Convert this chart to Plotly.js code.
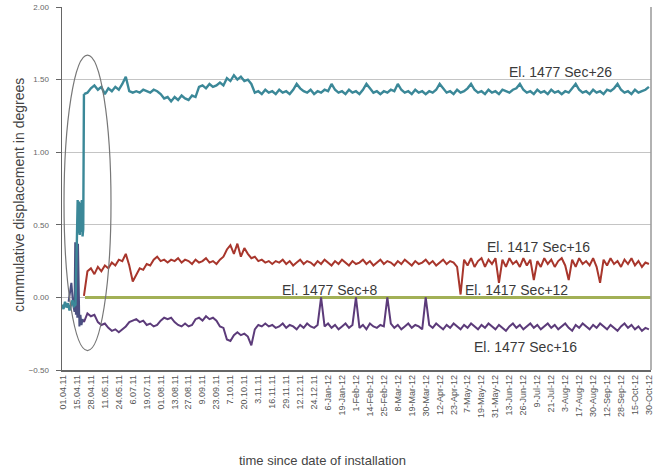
<!DOCTYPE html>
<html>
<head>
<meta charset="utf-8">
<script src="https://cdn.plot.ly/plotly-3.0.1.min.js"></script>
<style>html,body{margin:0;padding:0;background:#fff;}#chart{width:662px;height:471px;}</style>
</head>
<body>
<div id="chart"></div>
<script>
// Tick labels (one every 4 readings)
var tickLabels = ["01.04.11","15.04.11","28.04.11","11.05.11","24.05.11","6.07.11","19.07.11","01.08.11","13.08.11","27.08.11","9.09.11","23.09.11","7.10.11","20.10.11","3.11.11","16.11.11","29.11.11","12.12.11","24.12.11","6-Jan-12","19-Jan-12","1-Feb-12","14-Feb-12","25-Feb-12","8-Mar-12","19-Mar-12","30-Mar-12","12-Apr-12","23-Apr-12","7-May-12","19-May-12","31-May-12","13-Jun-12","26-Jun-12","9-Jul-12","21-Jul-12","3-Aug-12","17-Aug-12","30-Aug-12","12-Sep-12","28-Sep-12","15-Oct-12","30-Oct-12"];

// Installation period readings (reading index, value)
var tealEarlyX = [-0.29,0.14,0.57,1.0,1.43,1.86,2.29,2.72,3.15,3.58,4.0,4.2,4.4,4.6,4.8,5.0,5.2,5.4,5.6,5.8,6.0];
var tealEarlyY = [-0.05,-0.08,-0.03,-0.07,-0.04,-0.09,-0.05,-0.02,-0.06,-0.05,0.42,0.67,0.44,0.66,0.43,0.65,0.45,0.67,0.42,0.47,1.40];
var purpleEarlyX = [1.6,2.4,2.9,3.3,3.5,3.7,3.9,4.1,4.3,4.5,4.7,5.0,5.3,5.6,6.0];
var purpleEarlyY = [-0.03,0.10,-0.05,-0.10,0.38,-0.12,0.38,-0.14,0.37,-0.10,-0.20,-0.12,-0.19,-0.15,-0.17];

// Regular readings from index 6 to 168
var sec26 = [1.40,1.41,1.44,1.46,
 1.43,1.45,1.40,1.44,1.42,1.45,1.43,1.47,1.52,1.42,
 1.41,1.42,1.41,1.43,1.42,1.41,1.43,1.42,1.40,1.37,
 1.38,1.35,1.38,1.36,1.39,1.37,1.36,1.39,1.38,1.45,
 1.46,1.44,1.47,1.45,1.46,1.48,1.46,1.51,1.49,1.53,
 1.50,1.52,1.49,1.50,1.47,1.41,1.42,1.40,1.43,1.41,
 1.42,1.40,1.43,1.41,1.42,1.40,1.43,1.47,1.44,1.42,
 1.41,1.43,1.40,1.42,1.41,1.43,1.42,1.47,1.43,1.41,
 1.42,1.40,1.43,1.41,1.42,1.40,1.43,1.47,1.44,1.41,
 1.42,1.40,1.42,1.41,1.43,1.42,1.47,1.43,1.41,1.42,
 1.40,1.43,1.41,1.42,1.40,1.42,1.41,1.43,1.47,1.44,
 1.41,1.42,1.40,1.43,1.41,1.42,1.44,1.47,1.43,1.41,
 1.42,1.40,1.43,1.41,1.42,1.40,1.43,1.42,1.41,1.43,
 1.44,1.47,1.43,1.41,1.42,1.40,1.43,1.41,1.42,1.40,
 1.43,1.41,1.42,1.40,1.42,1.41,1.44,1.47,1.43,1.41,
 1.42,1.40,1.43,1.41,1.42,1.40,1.43,1.42,1.44,1.47,
 1.43,1.41,1.42,1.40,1.43,1.41,1.42,1.43,1.45];

var sec16_1417 = [0.01,0.18,0.20,0.16,
 0.21,0.18,0.22,0.20,0.24,0.22,0.26,0.25,0.30,0.22,
 0.11,0.16,0.20,0.19,0.23,0.22,0.26,0.28,0.25,0.26,
 0.24,0.26,0.25,0.27,0.24,0.26,0.25,0.23,0.26,0.24,
 0.25,0.27,0.24,0.25,0.23,0.26,0.28,0.33,0.36,0.30,
 0.37,0.28,0.34,0.30,0.27,0.28,0.25,0.26,0.24,0.25,
 0.23,0.25,0.24,0.26,0.23,0.25,0.22,0.24,0.26,0.23,
 0.25,0.24,0.22,0.25,0.23,0.26,0.24,0.22,0.25,0.23,
 0.26,0.24,0.22,0.25,0.23,0.24,0.26,0.23,0.25,0.22,
 0.24,0.26,0.23,0.25,0.24,0.22,0.25,0.23,0.26,0.24,
 0.22,0.25,0.23,0.24,0.26,0.23,0.25,0.22,0.24,0.26,
 0.23,0.25,0.24,0.21,0.02,0.26,0.22,0.27,0.21,0.25,
 0.27,0.21,0.26,0.23,0.27,0.10,0.26,0.21,0.27,0.23,
 0.25,0.21,0.27,0.22,0.26,0.12,0.25,0.21,0.27,0.23,
 0.26,0.21,0.25,0.27,0.22,0.12,0.26,0.21,0.27,0.23,
 0.25,0.22,0.27,0.21,0.10,0.26,0.22,0.27,0.23,0.25,
 0.21,0.26,0.23,0.27,0.22,0.25,0.21,0.24,0.23];

var sec16_1477 = [-0.17,-0.11,-0.13,-0.12,
 -0.17,-0.19,-0.18,-0.21,-0.23,-0.22,-0.24,-0.22,-0.20,-0.17,
 -0.16,-0.15,-0.17,-0.16,-0.19,-0.18,-0.20,-0.19,-0.16,-0.14,
 -0.15,-0.14,-0.17,-0.19,-0.20,-0.18,-0.20,-0.19,-0.15,-0.14,
 -0.16,-0.13,-0.15,-0.14,-0.16,-0.20,-0.21,-0.29,-0.30,-0.26,
 -0.24,-0.26,-0.25,-0.27,-0.33,-0.22,-0.19,-0.20,-0.18,-0.20,
 -0.19,-0.21,-0.20,-0.18,-0.21,-0.19,-0.20,-0.22,-0.19,-0.21,
 -0.18,-0.20,-0.21,-0.19,0.00,-0.20,-0.18,-0.21,-0.19,-0.22,
 -0.20,-0.18,-0.21,-0.19,0.00,-0.21,-0.19,-0.22,-0.18,-0.20,
 -0.21,-0.19,-0.20,0.00,-0.18,-0.21,-0.19,-0.22,-0.20,-0.18,
 -0.21,-0.19,-0.20,-0.22,0.00,-0.19,-0.21,-0.18,-0.20,-0.22,
 -0.19,-0.21,-0.18,-0.20,-0.22,-0.19,-0.21,-0.18,-0.20,-0.22,
 -0.19,-0.21,-0.18,-0.20,-0.22,-0.19,-0.21,-0.23,-0.20,-0.18,
 -0.21,-0.19,-0.22,-0.20,-0.18,-0.21,-0.19,-0.22,-0.20,-0.18,
 -0.21,-0.19,-0.22,-0.20,-0.18,-0.21,-0.23,-0.19,-0.21,-0.18,
 -0.20,-0.22,-0.19,-0.21,-0.18,-0.20,-0.22,-0.19,-0.21,-0.23,
 -0.20,-0.18,-0.21,-0.19,-0.22,-0.20,-0.23,-0.21,-0.22];

var sec8X = [6.3, 168.5];
var sec8Y = [0.00, 0.00];

var labels = ["El. 1477 Sec+26","El. 1417 Sec+16","El. 1477 Sec+8","El. 1417 Sec+12","El. 1477 Sec+16"];

var cTeal = '#3b8898', cRed = '#a8362c', cPurple = '#5c3b7a', cGreen = '#a2b056';
var firstIdx = 6;

var traces = [
 {x: sec8X, y: sec8Y, mode:'lines', line:{color:cGreen, width:3}, name:labels[2]},
 {x: purpleEarlyX, y: purpleEarlyY, mode:'lines', line:{color:'#4b4f80', width:2}, name:labels[4]},
 {y: sec16_1477, x0:firstIdx, dx:1, mode:'lines', line:{color:cPurple, width:2}, name:labels[4]},
 {y: sec16_1417, x0:firstIdx, dx:1, mode:'lines', line:{color:cRed, width:2}, name:labels[1]},
 {x: tealEarlyX, y: tealEarlyY, mode:'lines', line:{color:cTeal, width:2.4}, name:labels[0]},
 {y: sec26, x0:firstIdx, dx:1, mode:'lines', line:{color:cTeal, width:2.4}, name:labels[0]}
];

var tickVals = tickLabels.map(function(_, i){ return i*4; });
var annFont = {family:'Liberation Sans, Arial, sans-serif', size:14, color:'#3a3a3a'};
function lab(t, px, py) {
  return {text:t, xref:'paper', yref:'paper', x:(px-62)/589, y:(370-py)/363,
          xanchor:'center', yanchor:'middle', showarrow:false, font:annFont};
}

var layout = {
 width:662, height:471,
 margin:{l:62, r:11, t:7, b:101},
 paper_bgcolor:'#fff', plot_bgcolor:'#fff',
 showlegend:false,
 font:{family:'Liberation Sans, Arial, sans-serif', color:'#555'},
 xaxis:{range:[-0.29,168.6], tickmode:'array', tickvals:tickVals, ticktext:tickLabels,
   tickangle:-90, tickfont:{size:9, color:'#555'}, showgrid:false, zeroline:false,
   showline:true, linecolor:'#666', linewidth:1.5, ticks:''},
 yaxis:{range:[-0.5,2.0], dtick:0.5, tick0:0, tickformat:'.2f', tickfont:{size:8, color:'#666'},
   showgrid:true, gridcolor:'#c4c4c4', gridwidth:1, zeroline:false,
   showline:true, linecolor:'#666', linewidth:1.5, ticks:'outside', ticklen:5, tickcolor:'#666',
   ticklabelstandoff:5},
 shapes:[
  {type:'line', xref:'paper', yref:'paper', x0:1, x1:1, y0:0, y1:1, line:{color:'#999', width:1.5}},
  {type:'circle', xref:'x', yref:'y', x0:0.29, x1:13.76, y0:-0.366, y1:1.669, line:{color:'#777', width:1.2}}
 ],
 annotations:[
  lab(labels[0], 560, 72),
  lab(labels[1], 538, 247),
  lab(labels[2], 330, 290),
  lab(labels[3], 516, 290),
  lab(labels[4], 525, 347),
  {text:'cummulative displacement in degrees', xref:'paper', yref:'paper', x:(19-62)/589, y:(370-195)/363,
   xanchor:'center', yanchor:'middle', textangle:-90, showarrow:false,
   font:{family:'Liberation Sans, Arial, sans-serif', size:14, color:'#444'}},
  {text:'time since date of installation', xref:'paper', yref:'paper', x:(322-62)/589, y:(370-460)/363,
   xanchor:'center', yanchor:'middle', showarrow:false,
   font:{family:'Liberation Sans, Arial, sans-serif', size:13, color:'#444'}}
 ]
};

Plotly.newPlot('chart', traces, layout, {displayModeBar:false, staticPlot:true});
</script>
</body>
</html>
